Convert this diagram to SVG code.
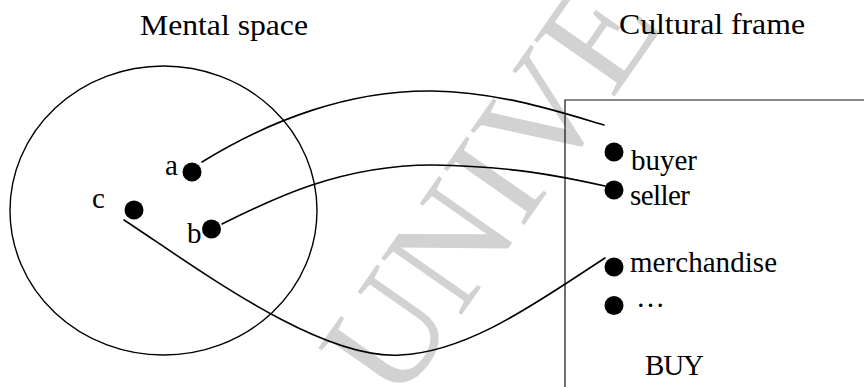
<svg xmlns="http://www.w3.org/2000/svg" width="864" height="387" viewBox="0 0 864 387">
<style>
text { font-family: "Liberation Serif", "Times New Roman", serif; fill: #000; }
.title { font-size: 30px; }
.lbl { font-size: 29px; }
.dot { fill: #000; }
.conn { fill: none; stroke: #000; stroke-width: 1.6; stroke-linecap: round; }
.wm { font-family: "Liberation Serif", serif; font-size: 150px; fill: #d2d2d2; }
</style>
<rect width="864" height="387" fill="#fff"/>
<text class="wm" transform="translate(397,407) rotate(-55)">UNIVE</text>
<g id="title-mental"><text class="title" x="140" y="35" textLength="168" lengthAdjust="spacingAndGlyphs">Mental space</text></g>
<g id="title-cultural"><text class="title" x="619" y="34" textLength="186" lengthAdjust="spacingAndGlyphs">Cultural frame</text></g>
<g id="mental-space"><ellipse cx="163.5" cy="210.5" rx="153.5" ry="144.5" fill="none" stroke="#000" stroke-width="1.4"/></g>
<g id="cultural-frame"><path d="M864 100 H565 V387" fill="none" stroke="#111" stroke-width="1.2"/>
<text class="lbl" x="645" y="375" textLength="59">BUY</text></g>
<g id="node-a"><circle class="dot" cx="192" cy="172" r="9.5"/><text class="lbl" x="165" y="175">a</text></g>
<g id="node-b"><circle class="dot" cx="211.5" cy="229" r="9.5"/><text class="lbl" x="187" y="243">b</text></g>
<g id="node-c"><circle class="dot" cx="134" cy="210" r="9.5"/><text class="lbl" x="92" y="208">c</text></g>
<g id="node-buyer"><circle class="dot" cx="614" cy="152" r="9.5"/><text class="lbl" x="631" y="170" textLength="66">buyer</text></g>
<g id="node-seller"><circle class="dot" cx="614" cy="190" r="9.5"/><text class="lbl" x="630" y="205" textLength="60">seller</text></g>
<g id="node-merchandise"><circle class="dot" cx="614" cy="267" r="9.5"/><text class="lbl" x="630" y="272" textLength="147">merchandise</text></g>
<g id="node-etc"><circle class="dot" cx="614" cy="305.5" r="9.5"/><text class="lbl" x="636" y="307">…</text></g>
<g id="connectors">
<path class="conn" d="M202 162 C270 120 350 90 432 91 C500 92 560 112 604 125"/>
<path class="conn" d="M222 224 C270 200 340 165 432 165 C510 166 560 176 605 186"/>
<path class="conn" d="M124 220 C200 270 320 360 400 355 C470 352 540 300 605 258"/>
</g>
</svg>
